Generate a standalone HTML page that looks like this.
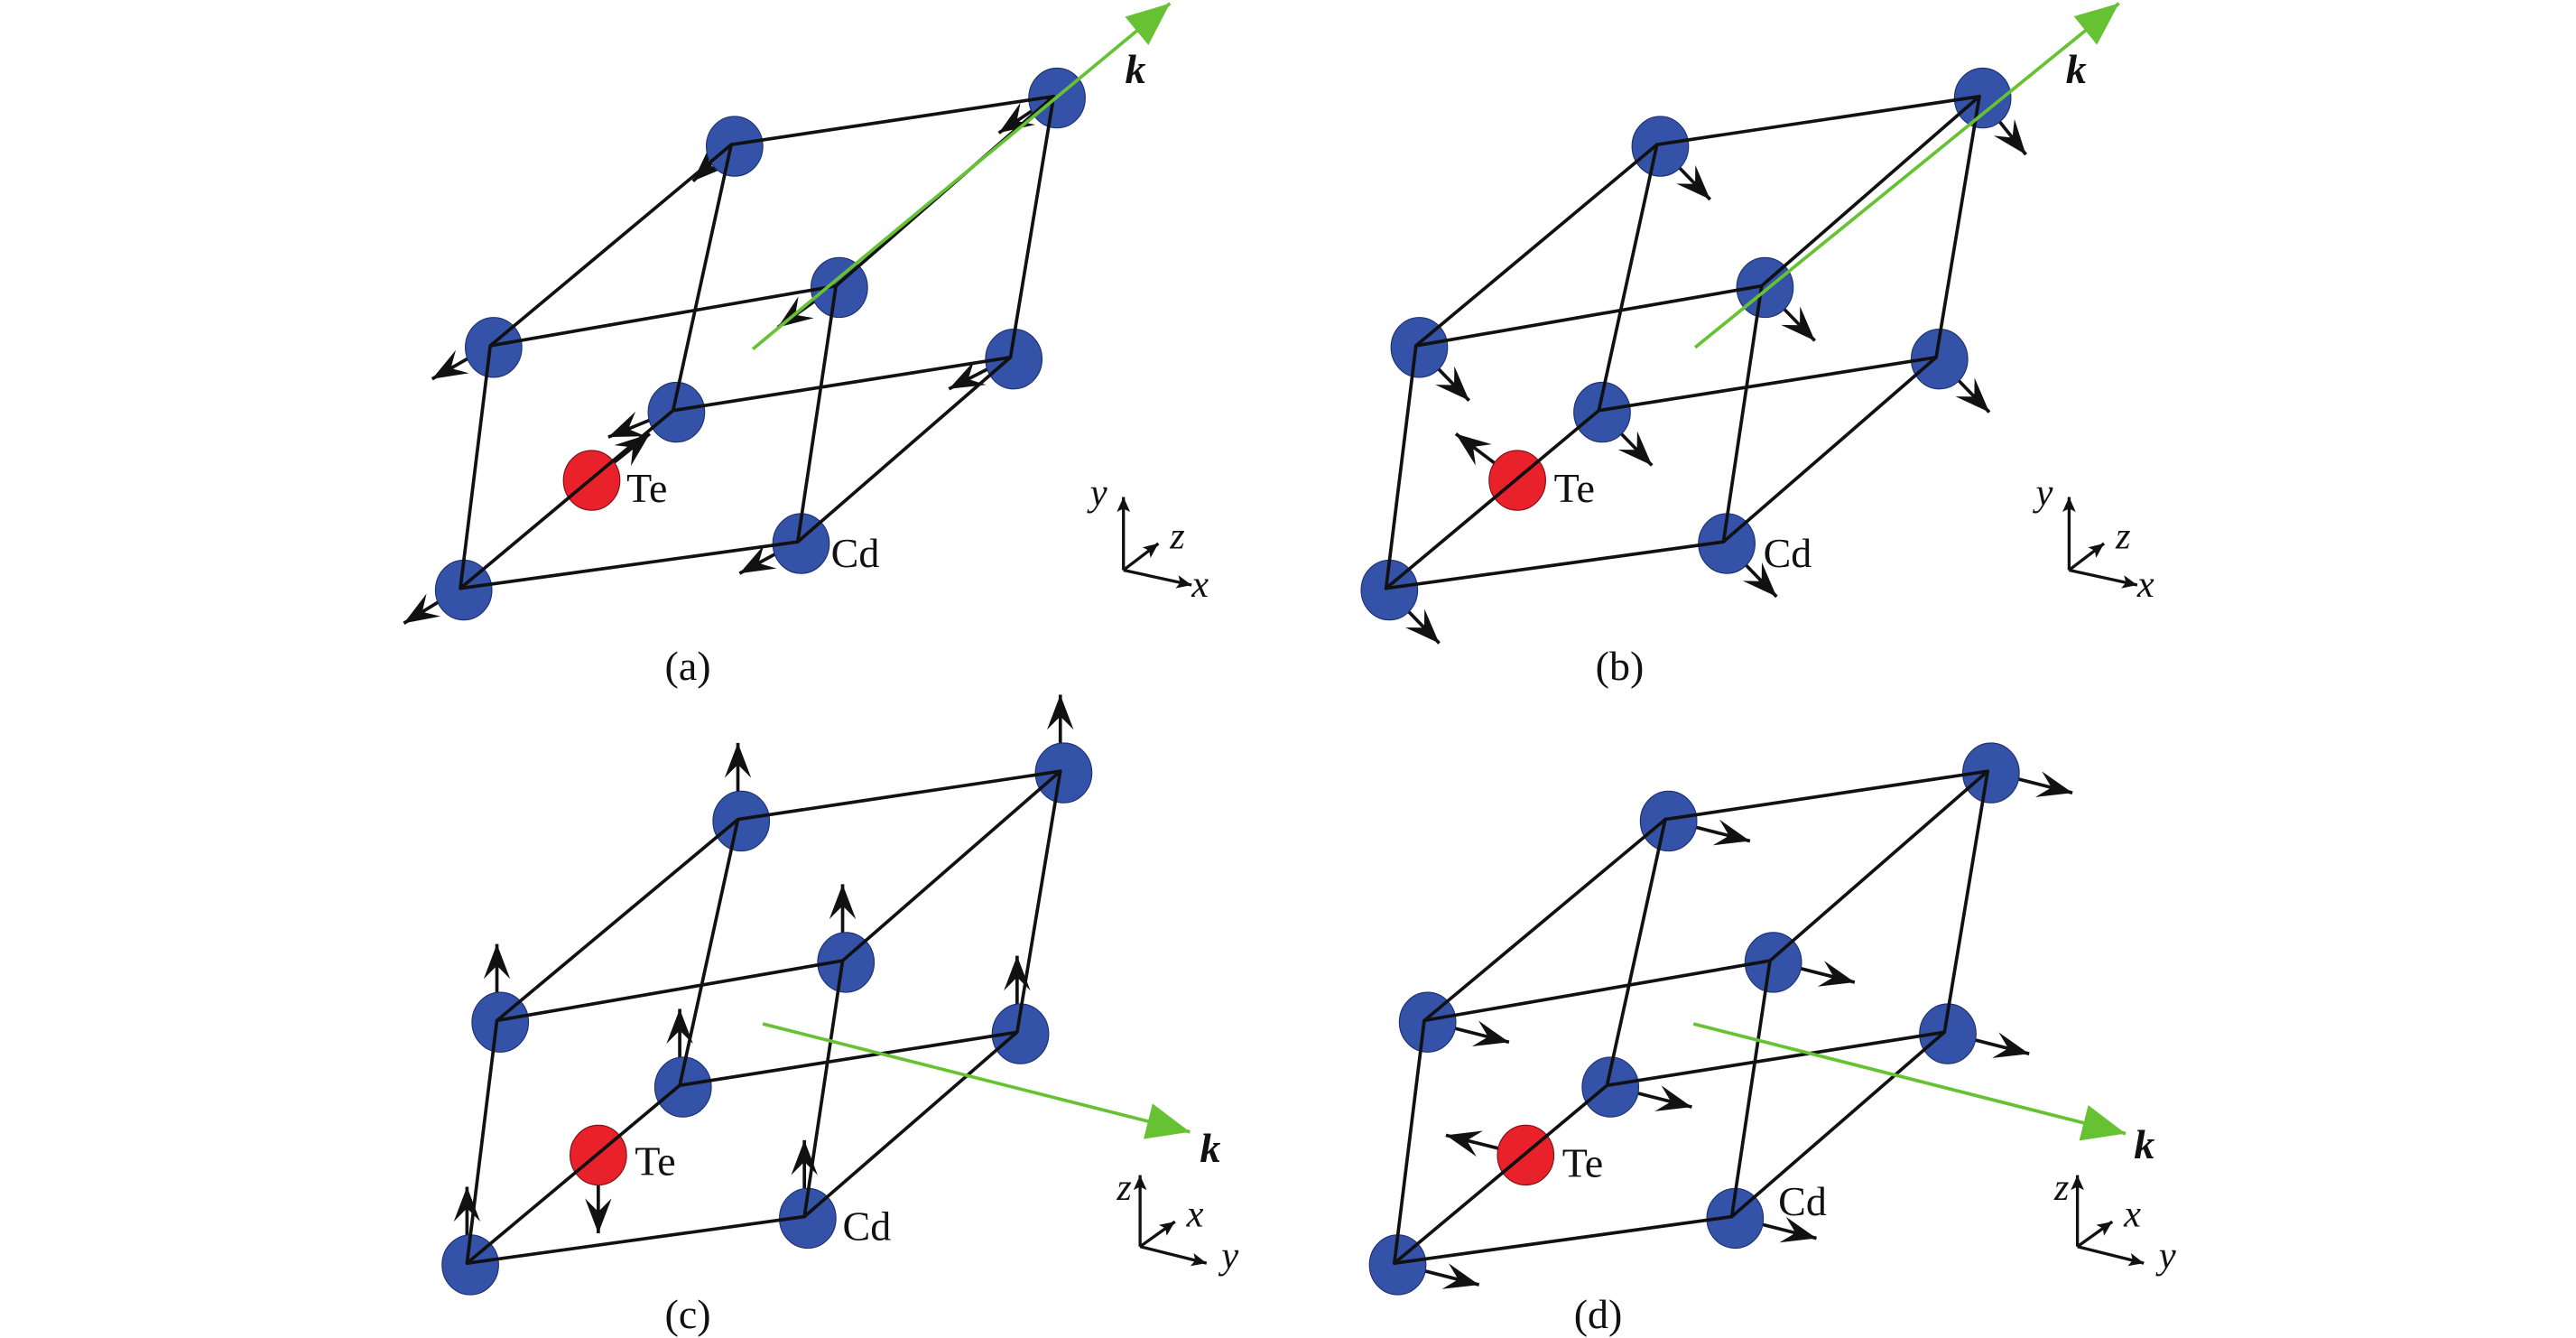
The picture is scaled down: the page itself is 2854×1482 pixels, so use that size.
<!DOCTYPE html>
<html><head><meta charset="utf-8"><style>
html,body{margin:0;padding:0;background:#fff;width:2854px;height:1482px;overflow:hidden}
svg{display:block}
text{font-family:"Liberation Serif",serif;fill:#111}
.lab{font-size:25px}
.ax{font-size:23px;font-style:italic}
.k{font-size:25px;font-style:italic;font-weight:bold}
</style></head><body>
<svg width="2854" height="1482" viewBox="0 0 1550 805" preserveAspectRatio="none" xmlns="http://www.w3.org/2000/svg">
<defs>
<marker id="h" viewBox="-22 -9 23 18" refX="0" refY="0" markerWidth="23" markerHeight="18" markerUnits="userSpaceOnUse" orient="auto"><path d="M0,0 L-21,-8 L-13,0 L-21,8Z" fill="#111"/></marker>
<marker id="s" viewBox="-9 -5 10 10" refX="0" refY="0" markerWidth="10" markerHeight="10" markerUnits="userSpaceOnUse" orient="auto"><path d="M0,0 L-9,-4 L-7,0 L-9,4Z" fill="#111"/></marker>
<marker id="g" viewBox="-27 -12 28 24" refX="0" refY="0" markerWidth="28" markerHeight="24" markerUnits="userSpaceOnUse" orient="auto"><path d="M0,0 L-26,-11 L-26,11Z" fill="#66c233"/></marker>
<g id="atoms">
<ellipse cx="279" cy="355" rx="17" ry="18" fill="#3352a8" stroke="#1d2f6e" stroke-width="0.6"/>
<ellipse cx="482" cy="327" rx="17" ry="18" fill="#3352a8" stroke="#1d2f6e" stroke-width="0.6"/>
<ellipse cx="297" cy="209" rx="17" ry="18" fill="#3352a8" stroke="#1d2f6e" stroke-width="0.6"/>
<ellipse cx="505" cy="173" rx="17" ry="18" fill="#3352a8" stroke="#1d2f6e" stroke-width="0.6"/>
<ellipse cx="407" cy="248" rx="17" ry="18" fill="#3352a8" stroke="#1d2f6e" stroke-width="0.6"/>
<ellipse cx="610" cy="216" rx="17" ry="18" fill="#3352a8" stroke="#1d2f6e" stroke-width="0.6"/>
<ellipse cx="442" cy="88" rx="17" ry="18" fill="#3352a8" stroke="#1d2f6e" stroke-width="0.6"/>
<ellipse cx="636" cy="59" rx="17" ry="18" fill="#3352a8" stroke="#1d2f6e" stroke-width="0.6"/>
<ellipse cx="356" cy="289" rx="17" ry="18" fill="#e8212b" stroke="#7a1015" stroke-width="0.6"/>
</g>
<path id="edges" d="M277,354 L480,326 M277,354 L295,208 M277,354 L405,247 M480,326 L503,172 M480,326 L608,215 M295,208 L503,172 M295,208 L440,87 M405,247 L608,215 M405,247 L440,87 M503,172 L634,58 M608,215 L634,58 M440,87 L634,58" stroke="#111" stroke-width="2" fill="none" stroke-linecap="round"/>
</defs>

<!-- Panel a -->
<g>
<g stroke="#111" stroke-width="2" marker-end="url(#h)">
<line x1="440" y1="87" x2="417" y2="109"/>
<line x1="634" y1="58" x2="601" y2="80"/>
<line x1="295" y1="208" x2="260" y2="228"/>
<line x1="503" y1="172" x2="468" y2="197"/>
<line x1="608" y1="215" x2="571" y2="234"/>
<line x1="405" y1="247" x2="366" y2="263"/>
<line x1="480" y1="326" x2="445" y2="345"/>
<line x1="277" y1="354" x2="243" y2="375"/>
<line x1="356" y1="289" x2="391" y2="261"/>
</g>
<use href="#atoms"/><use href="#edges"/>
<line x1="453" y1="210" x2="704" y2="2" stroke="#66c233" stroke-width="2" marker-end="url(#g)"/>
<text class="k" x="677" y="50">k</text>
<text class="lab" x="377" y="302">Te</text>
<text class="lab" x="500" y="341">Cd</text>
<text class="lab" x="400" y="409">(a)</text>
<g stroke="#111" stroke-width="1.8" marker-end="url(#s)">
<line x1="676" y1="343" x2="676" y2="299"/><line x1="676" y1="343" x2="697" y2="327"/><line x1="676" y1="343" x2="717" y2="352"/>
</g>
<text class="ax" x="656" y="304">y</text><text class="ax" x="704" y="330">z</text><text class="ax" x="717" y="359">x</text>
</g>

<!-- Panel b -->
<g transform="translate(557,0)">
<g stroke="#111" stroke-width="2" marker-end="url(#h)">
<line x1="440" y1="87" x2="472" y2="120"/>
<line x1="634" y1="58" x2="662" y2="93"/>
<line x1="295" y1="208" x2="327" y2="241"/>
<line x1="503" y1="172" x2="535" y2="205"/>
<line x1="608" y1="215" x2="640" y2="248"/>
<line x1="405" y1="247" x2="437" y2="280"/>
<line x1="480" y1="326" x2="512" y2="359"/>
<line x1="277" y1="354" x2="309" y2="387"/>
<line x1="356" y1="289" x2="319" y2="261"/>
</g>
<use href="#atoms"/><use href="#edges"/>
<line x1="463" y1="209" x2="718" y2="2" stroke="#66c233" stroke-width="2" marker-end="url(#g)"/>
<text class="k" x="686" y="50">k</text>
<text class="lab" x="378" y="302">Te</text>
<text class="lab" x="504" y="341">Cd</text>
<text class="lab" x="403" y="409">(b)</text>
<g transform="translate(12,0)">
<g stroke="#111" stroke-width="1.8" marker-end="url(#s)">
<line x1="676" y1="343" x2="676" y2="299"/><line x1="676" y1="343" x2="697" y2="327"/><line x1="676" y1="343" x2="717" y2="352"/>
</g>
<text class="ax" x="656" y="304">y</text><text class="ax" x="704" y="330">z</text><text class="ax" x="717" y="359">x</text>
</g>
</g>

<!-- Panel c -->
<g transform="translate(4,406)">
<g stroke="#111" stroke-width="2" marker-end="url(#h)">
<line x1="440" y1="87" x2="440" y2="41"/>
<line x1="634" y1="58" x2="634" y2="12"/>
<line x1="295" y1="208" x2="295" y2="162"/>
<line x1="503" y1="172" x2="503" y2="126"/>
<line x1="608" y1="215" x2="608" y2="169"/>
<line x1="405" y1="247" x2="405" y2="201"/>
<line x1="480" y1="326" x2="480" y2="280"/>
<line x1="277" y1="354" x2="277" y2="308"/>
<line x1="356" y1="289" x2="356" y2="336"/>
</g>
<use href="#atoms"/><use href="#edges"/>
<line x1="455" y1="210" x2="712" y2="275" stroke="#66c233" stroke-width="2" marker-end="url(#g)"/>
<text class="k" x="718" y="293">k</text>
<text class="lab" x="378" y="301">Te</text>
<text class="lab" x="503" y="340">Cd</text>
<text class="lab" x="396" y="393">(c)</text>
<g stroke="#111" stroke-width="1.8" marker-end="url(#s)">
<line x1="682" y1="344" x2="682" y2="301"/><line x1="682" y1="344" x2="703" y2="329"/><line x1="682" y1="344" x2="722" y2="354"/>
</g>
<text class="ax" x="668" y="316">z</text><text class="ax" x="710" y="332">x</text><text class="ax" x="731" y="357">y</text>
</g>

<!-- Panel d -->
<g transform="translate(562,406)">
<g stroke="#111" stroke-width="2" marker-end="url(#h)">
<line x1="440" y1="87" x2="491" y2="100"/>
<line x1="634" y1="58" x2="685" y2="71"/>
<line x1="295" y1="208" x2="346" y2="221"/>
<line x1="503" y1="172" x2="554" y2="185"/>
<line x1="608" y1="215" x2="659" y2="228"/>
<line x1="405" y1="247" x2="456" y2="260"/>
<line x1="480" y1="326" x2="531" y2="339"/>
<line x1="277" y1="354" x2="328" y2="367"/>
<line x1="356" y1="289" x2="308" y2="277"/>
</g>
<use href="#atoms"/><use href="#edges"/>
<line x1="457" y1="210" x2="717" y2="276" stroke="#66c233" stroke-width="2" marker-end="url(#g)"/>
<text class="k" x="722" y="291">k</text>
<text class="lab" x="378" y="302">Te</text>
<text class="lab" x="508" y="325">Cd</text>
<text class="lab" x="385" y="393">(d)</text>
<g stroke="#111" stroke-width="1.8" marker-end="url(#s)">
<line x1="688" y1="344" x2="688" y2="301"/><line x1="688" y1="344" x2="709" y2="329"/><line x1="688" y1="344" x2="728" y2="354"/>
</g>
<text class="ax" x="674" y="316">z</text><text class="ax" x="716" y="332">x</text><text class="ax" x="737" y="357">y</text>
</g>
</svg>
</body></html>
